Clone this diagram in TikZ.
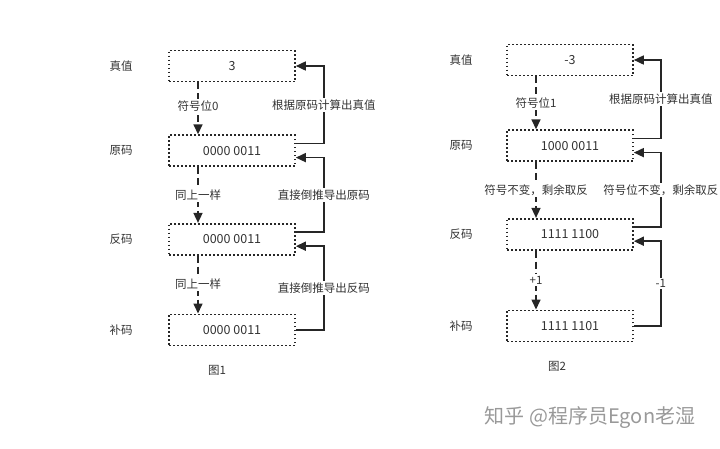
\documentclass[tikz,border=0pt]{standalone}
\usepackage{fontspec}
\setmainfont{Noto Sans CJK SC}
\usetikzlibrary{arrows.meta, positioning}

\begin{document}
\begin{tikzpicture}[
        x=1pt, y=1pt,
        box/.style={rectangle, draw=black!85, line width=1.6pt, dash pattern=on 1.6pt off 2.4pt, minimum width=126pt, minimum height=31pt, align=center, font=\fontsize{12.5}{14}\selectfont, text=black!80},
        tag/.style={font=\fontsize{11.5}{13}\selectfont, text=black!80},
        lbl/.style={font=\fontsize{11.5}{13}\selectfont, text=black!80, fill=white, inner sep=1.5pt},
        arrow/.style={-{Triangle[length=10pt,width=9pt]}, line width=1.6pt, draw=black!85},
        dasharrow/.style={arrow, dash pattern=on 7pt off 4pt}
    ]
    \useasboundingbox (0,0) rectangle (720,-448);

    % 图1：正数
    \node[box] (zhen1) at (232,-66) {3};
    \node[box, below=52pt of zhen1] (yuan1) {0000 0011};
    \node[box, below=56pt of yuan1] (fan1) {0000 0011};
    \node[box, below=58pt of fan1] (bu1) {0000 0011};
    \node[tag, left=32pt of zhen1] (tzhen1) {真值};
    \node[tag, left=32pt of yuan1] (tyuan1) {原码};
    \node[tag, left=32pt of fan1] (tfan1) {反码};
    \node[tag, left=32pt of bu1] (tbu1) {补码};
    \node[tag, below=16pt of bu1, xshift=-15pt] (fig1) {图1};

    % 图2：负数
    \node[box] (zhen2) at (570,-60) {-3};
    \node[box, below=53pt of zhen2] (yuan2) {1000 0011};
    \node[box, below=56pt of yuan2] (fan2) {1111 1100};
    \node[box, below=59pt of fan2] (bu2) {1111 1101};
    \node[tag, left=30pt of zhen2] (tzhen2) {真值};
    \node[tag, left=30pt of yuan2] (tyuan2) {原码};
    \node[tag, left=30pt of fan2] (tfan2) {反码};
    \node[tag, left=30pt of bu2] (tbu2) {补码};
    \node[tag, below=16pt of bu2, xshift=-13pt] (fig2) {图2};

    % 向下的虚线箭头
    \draw[dasharrow] ([xshift=-34pt]zhen1.south) -- node[lbl, pos=0.45] {符号位0} ([xshift=-34pt]yuan1.north);
    \draw[dasharrow] ([xshift=-34pt]yuan1.south) -- node[lbl] {同上一样} ([xshift=-34pt]fan1.north);
    \draw[dasharrow] ([xshift=-34pt]fan1.south) -- node[lbl] {同上一样} ([xshift=-34pt]bu1.north);
    \draw[dasharrow] ([xshift=-34pt]zhen2.south) -- node[lbl] {符号位1} ([xshift=-34pt]yuan2.north);
    \draw[dasharrow] ([xshift=-34pt]yuan2.south) -- node[lbl] {符号不变，剩余取反} ([xshift=-34pt]fan2.north);
    \draw[dasharrow] ([xshift=-34pt]fan2.south) -- node[lbl] {+1} ([xshift=-34pt]bu2.north);

    % 向上的倒推箭头
    \draw[arrow] ([yshift=7pt]yuan1.east) -- ++(28pt,0) |- node[lbl, pos=0.25] {根据原码计算出真值} (zhen1.east);
    \draw[arrow] ([yshift=7pt]fan1.east) -- ++(28pt,0) |- node[lbl, pos=0.25] {直接倒推导出原码} ([yshift=-7pt]yuan1.east);
    \draw[arrow] (bu1.east) -- ++(28pt,0) |- node[lbl, pos=0.25] {直接倒推导出反码} ([yshift=-7pt]fan1.east);
    \draw[arrow] ([yshift=7pt]yuan2.east) -- ++(27pt,0) |- node[lbl, pos=0.25] {根据原码计算出真值} (zhen2.east);
    \draw[arrow] ([yshift=7pt]fan2.east) -- ++(27pt,0) |- node[lbl, pos=0.25] {符号位不变，剩余取反} ([yshift=-7pt]yuan2.east);
    \draw[arrow] (bu2.east) -- ++(27pt,0) |- node[lbl, pos=0.25] {-1} ([yshift=-7pt]fan2.east);

    % 水印
    \node[font=\fontsize{20}{22}\selectfont, text=black!40] (zhihu) at (590,-418) {知乎 @程序员Egon老湿};
\end{tikzpicture}
\end{document}
